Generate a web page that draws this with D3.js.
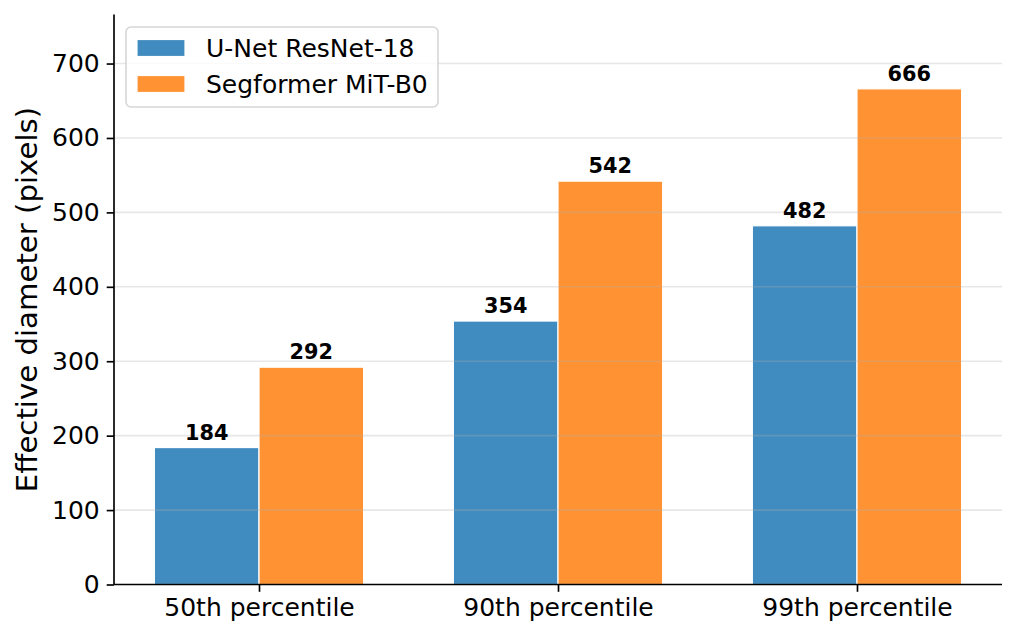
<!DOCTYPE html>
<html>
<head>
<meta charset="utf-8">
<script src="https://cdn.jsdelivr.net/npm/d3@7"></script>
<style>
  html, body { margin: 0; padding: 0; background: #fff; }
  svg { display: block; font-family: "DejaVu Sans", sans-serif; }
</style>
</head>
<body>
<svg id="chart" width="1016" height="639"></svg>
<script>
const categories = ["50th percentile", "90th percentile", "99th percentile"];
const seriesNames = ["U-Net ResNet-18", "Segformer MiT-B0"];
const unetValues = [184, 354, 482];
const segformerValues = [292, 542, 666];
const yTicks = [0, 100, 200, 300, 400, 500, 600, 700];

const colors = ["#1f77b4", "#ff7f0e"];
const barAlpha = 0.85;
const barWidth = 0.35;

const W = 1016, H = 639;
const margin = { left: 114, right: 14, top: 14.5, bottom: 54.5 };
const svg = d3.select("#chart");

const x = d3.scaleLinear()
  .domain([-barWidth - 0.135, categories.length - 1 + barWidth + 0.135])
  .range([margin.left, W - margin.right]);
const yMax = d3.max(segformerValues.concat(unetValues)) * 1.15;
const y = d3.scaleLinear().domain([0, yMax]).range([H - margin.bottom, margin.top]);

const series = [unetValues, segformerValues];
const offsets = [-barWidth / 2, barWidth / 2];

// bars
series.forEach((vals, s) => {
  svg.append("g").selectAll("rect").data(vals).join("rect")
    .attr("x", (d, i) => x(i + offsets[s] - barWidth / 2))
    .attr("width", x(barWidth) - x(0))
    .attr("y", d => y(d))
    .attr("height", d => y(0) - y(d))
    .attr("fill", colors[s])
    .attr("fill-opacity", barAlpha)
    .attr("stroke", "#fff")
    .attr("stroke-width", 1.2);
});

// grid (drawn above bars, like matplotlib default)
svg.append("g").selectAll("line").data(yTicks.filter(t => t > 0)).join("line")
  .attr("x1", x.range()[0]).attr("x2", x.range()[1])
  .attr("y1", d => y(d)).attr("y2", d => y(d))
  .attr("stroke", "#b0b0b0").attr("stroke-opacity", 0.3).attr("stroke-width", 1.6);

// value labels
series.forEach((vals, s) => {
  svg.append("g").selectAll("text").data(vals).join("text")
    .attr("x", (d, i) => x(i + offsets[s]))
    .attr("y", d => y(d) - 8)
    .attr("text-anchor", "middle")
    .attr("font-weight", "bold")
    .attr("font-size", 20.8)
    .attr("fill", "#000")
    .text(d => d);
});

// axes
const yAxis = d3.axisLeft(y).tickValues(yTicks).tickSize(7.3).tickPadding(7);
const gy = svg.append("g").attr("transform", `translate(${margin.left},0)`).call(yAxis);
gy.select(".domain").attr("d", `M0,${y.range()[0]}V${y.range()[1]}`);
gy.selectAll("text").attr("font-size", 25).attr("font-family", "DejaVu Sans").attr("fill", "#000");

const xAxis = d3.axisBottom(x).tickValues(d3.range(categories.length))
  .tickFormat(i => categories[i]).tickSize(7.3).tickPadding(6);
const gx = svg.append("g").attr("transform", `translate(0,${y(0)})`).call(xAxis);
gx.select(".domain").attr("d", `M${x.range()[0]},0H${x.range()[1]}`);
gx.selectAll("text").attr("font-size", 25).attr("font-family", "DejaVu Sans").attr("fill", "#000");

[gx, gy].forEach(g => {
  g.select(".domain").attr("stroke", "#000").attr("stroke-width", 1.67).attr("fill", "none");
  g.selectAll(".tick line").attr("stroke", "#000").attr("stroke-width", 1.67);
});

// y label
svg.append("text")
  .attr("transform", `translate(37,${(y.range()[0] + y.range()[1]) / 2}) rotate(-90)`)
  .attr("text-anchor", "middle")
  .attr("font-size", 29.2)
  .attr("fill", "#000")
  .text("Effective diameter (pixels)");

// legend
const lg = svg.append("g").attr("transform", `translate(${margin.left + 12},${margin.top + 12.5})`);
lg.append("rect")
  .attr("x", 0).attr("y", 0).attr("width", 312).attr("height", 80)
  .attr("rx", 5).attr("ry", 5)
  .attr("fill", "#fff").attr("fill-opacity", 0.8)
  .attr("stroke", "#cccccc").attr("stroke-opacity", 0.8).attr("stroke-width", 1.6);
seriesNames.forEach((name, s) => {
  const cy = 21 + s * 36;
  lg.append("rect")
    .attr("x", 11).attr("y", cy - 8.5).attr("width", 48).attr("height", 17)
    .attr("fill", colors[s]).attr("fill-opacity", barAlpha)
    .attr("stroke", "#fff").attr("stroke-width", 1.2);
  lg.append("text")
    .attr("x", 80).attr("y", cy).attr("dy", "0.36em")
    .attr("font-size", 25).attr("fill", "#000")
    .text(name);
});
</script>
</body>
</html>
